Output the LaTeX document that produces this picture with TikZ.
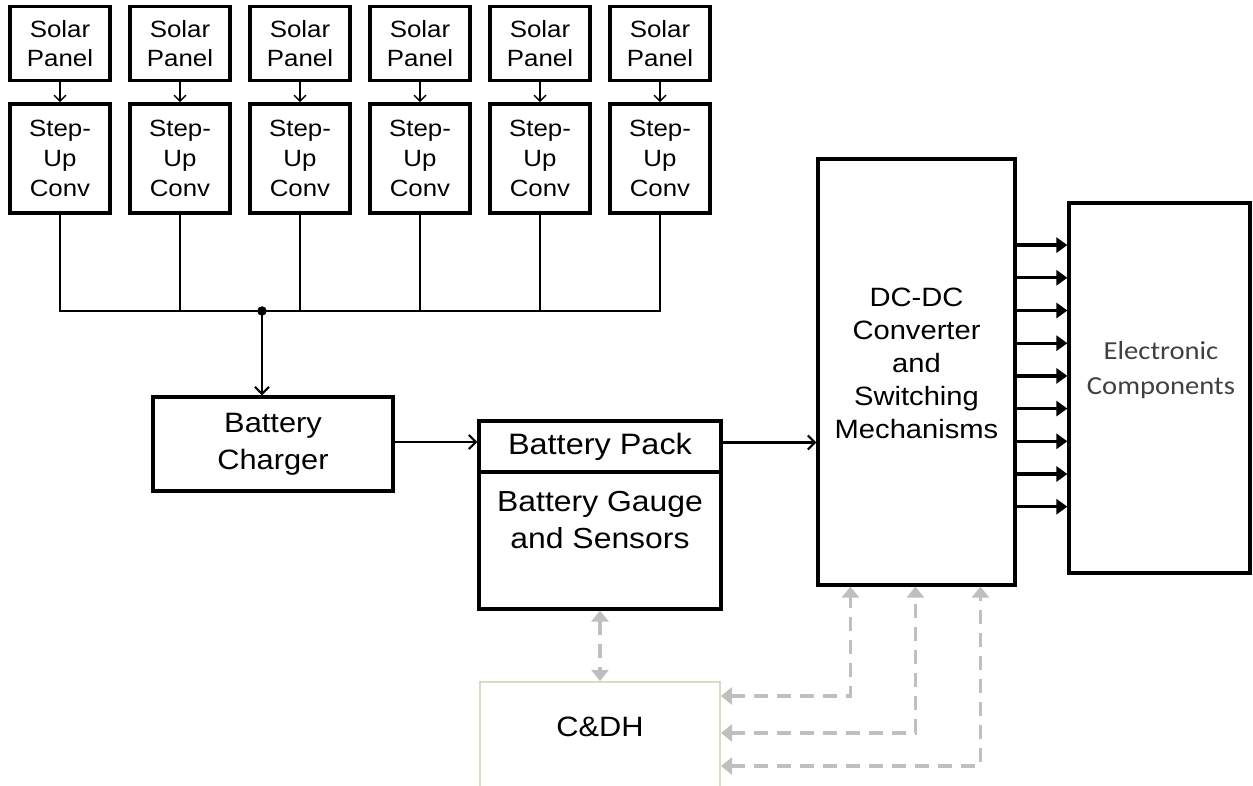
\documentclass[tikz,border=0pt]{standalone}
\usepackage{fontspec}
\setmainfont{Liberation Sans}[FakeStretch=1.1]
\newfontfamily\ecfont{Carlito}[FakeStretch=1.1]
\usetikzlibrary{arrows.meta,calc}
\definecolor{gline}{HTML}{BFBFBF}
\definecolor{beige}{HTML}{DDD9C3}
\definecolor{ectext}{HTML}{404040}
\begin{document}
\begin{tikzpicture}[x=1pt,y=-1pt,
  box/.style={draw, line width=3.2pt, fill=white, inner sep=0pt, align=center},
  smallbox/.style={box, line width=3.6pt, minimum width=100pt},
  lbl/.style={inner sep=0pt, align=center},
  conn/.style={line width=2.2pt, line cap=rect},
  openarr/.style={line width=2.2pt, -{Straight Barb[length=7pt,width=14pt,line width=2.2pt]}},
  thinarr/.style={line width=1.4pt, -{Straight Barb[length=6pt,width=12pt,line width=1.4pt]}},
  outarr/.style={line width=3.4pt, -{Triangle[length=11pt,width=15pt]}},
  garr/.style={gline, line width=3.5pt, dash pattern=on 14pt off 9pt, {Triangle[length=11pt,width=17pt]}-{Triangle[length=11pt,width=17pt]}},
]
\useasboundingbox (0,0) rectangle (1253,786);
\clip (0,0) rectangle (1253,786);

% solar panels and step-up converters
\foreach \i in {0,...,5} {
  \node[smallbox, minimum height=74pt, font=\fontsize{23.5}{29}\selectfont] (sp\i) at ({60+120*\i},43.5) {Solar\\Panel};
  \node[smallbox, minimum height=109pt, font=\fontsize{23.5}{30}\selectfont] (su\i) at ({60+120*\i},158.5) {Step-\\Up\\Conv};
  \draw[thinarr] (sp\i.south) -- (su\i.north);
}

% bus
\coordinate (busL) at (60,311);
\coordinate (busR) at (660,311);
\draw[conn] (busL) -- (busR);
\foreach \i in {0,...,5} {
  \draw[conn] (su\i.south) -- (su\i.south |- busL);
}
\node[circle, fill, inner sep=0pt, minimum size=9.5pt] (dot) at (262,311) {};

% battery charger
\node[box, minimum width=240pt, minimum height=94pt, font=\fontsize{28}{37}\selectfont] (chg) at (273,444) {Battery\\Charger};
\draw[openarr] (dot.center) -- (dot.center |- chg.north);

% battery pack and gauge
\node[box, minimum width=242pt, minimum height=51pt, font=\fontsize{29.5}{37}\selectfont] (pack) at (600,446.5) {Battery Pack};
\node[box, minimum width=242pt, minimum height=137pt] (gauge) at (600,540.5) {};
\node[lbl, font=\fontsize{29}{37}\selectfont] (gaugetxt) at (600,520) {Battery Gauge\\and Sensors};

% DC-DC
\node[box, minimum width=197pt, minimum height=426pt] (dc) at (916.5,372) {};
\node[lbl, font=\fontsize{26.5}{33}\selectfont] (dctxt) at (916.5,363) {DC-DC\\Converter\\and\\Switching\\Mechanisms};

% electronic components
\node[box, minimum width=181pt, minimum height=370pt] (ec) at (1159.5,388) {};
\node[lbl, font=\ecfont\fontsize{26}{35}\selectfont, text=ectext] (ectxt) at (1161,370) {Electronic\\Components};

% C&DH
\node[draw=beige, line width=2pt, fill=white, minimum width=240pt, minimum height=130pt, inner sep=0pt] (cdh) at (600,747) {};
\node[lbl, font=\fontsize{28}{34}\selectfont] (cdhtxt) at (600,727) {C\&DH};

% power flow
\draw[openarr] ($(chg.east)+(0,-2)$) -- ($(chg.east -| pack.west)+(0,-2)$);
\draw[openarr] ($(pack.east)+(0,-4)$) -- ($(pack.east -| dc.west)+(0,-4)$);

\foreach \k in {0,...,8} {
  \coordinate (o\k) at ($(dc.north east)+(0,{87.7+32.7*\k})$);
  \draw[outarr] (o\k) -- (o\k -| ec.west);
}

% data links
\draw[garr] (gauge.south) -- (cdh.north);
\draw[garr] ($(cdh.north east)+(0,15)$) -| ($(dc.south west)+(34,0)$);
\draw[garr] ($(cdh.north east)+(0,52)$) -| ($(dc.south west)+(99,0)$);
\draw[garr] ($(cdh.north east)+(0,85)$) -| ($(dc.south west)+(164,0)$);
\end{tikzpicture}
\end{document}
